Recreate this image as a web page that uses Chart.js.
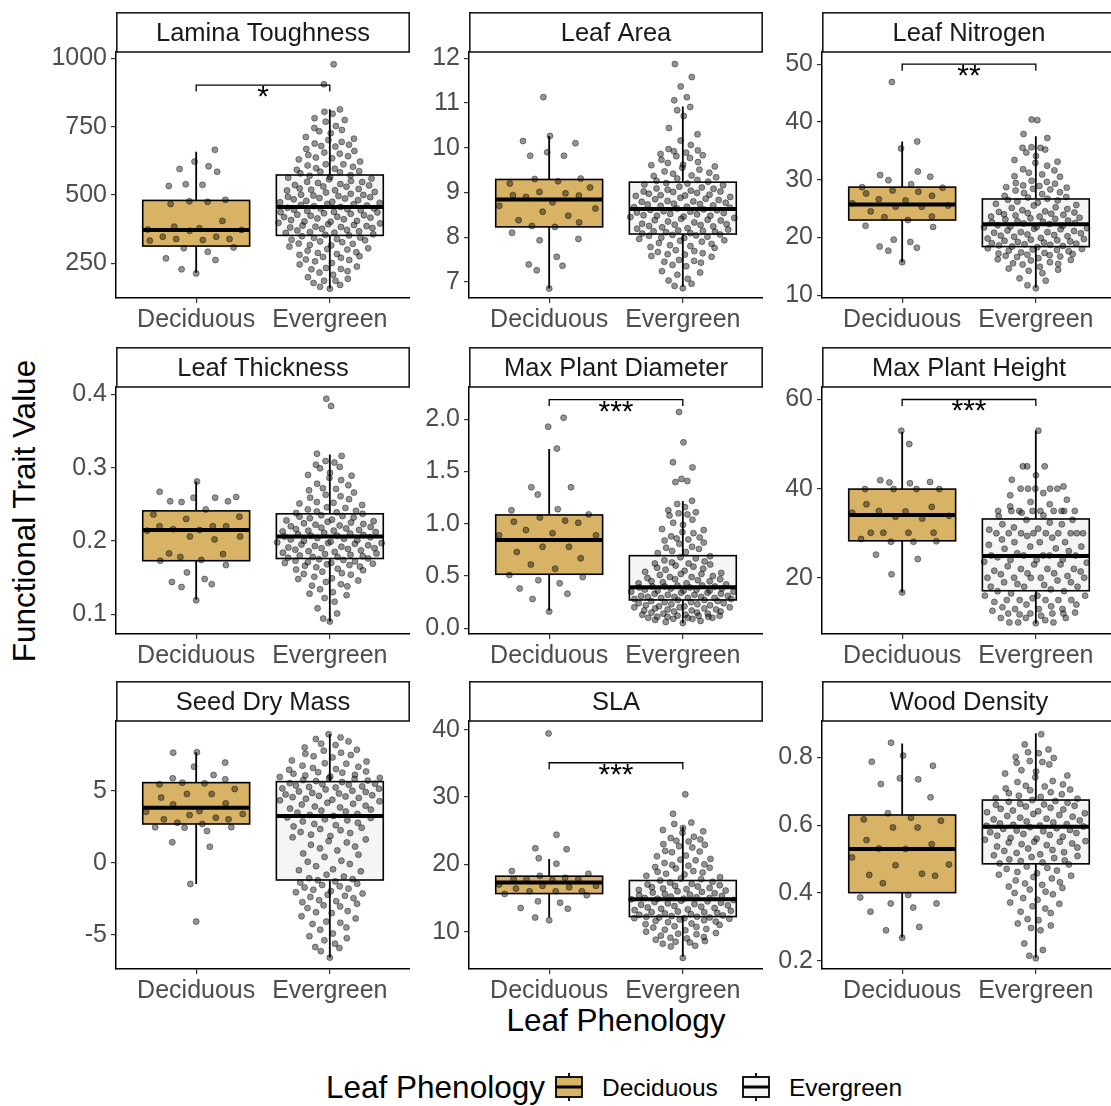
<!DOCTYPE html>
<html>
<head>
<meta charset="utf-8">
<script src="https://cdn.jsdelivr.net/npm/chart.js@4.4.1/dist/chart.umd.min.js"></script>
<style>
  body { margin: 0; background: #fff; overflow: hidden; }
  #page { position: relative; width: 1111px; height: 1106px; overflow: hidden; background: #fff;
          font-family: "Liberation Sans", Arial, Helvetica, sans-serif; }
  #page canvas.panel { position: absolute; }
  .title { position: absolute; white-space: nowrap; color: #000; font-size: 31.5px; line-height: 1; }
  #ytitle { left: 25px; top: 511px; transform: translate(-50%, -50%) rotate(-90deg); }
  #xtitle { left: 616px; top: 1021px; transform: translate(-50%, -50%); }
  #legendTitle { left: 326px; top: 1088px; transform: translateY(-50%); }
  .ltext { position: absolute; top: 1088px; transform: translateY(-50%); font-size: 24.5px;
           line-height: 1; color: #000; white-space: nowrap; }
  .key { position: absolute; top: 1072px; }
</style>
</head>
<body>
<div id="page">
  <div class="title" id="ytitle">Functional Trait Value</div>
  <div class="title" id="xtitle">Leaf Phenology</div>
  <div class="title" id="legendTitle">Leaf Phenology</div>
  <canvas class="key" id="keyDec" width="30" height="30" style="left:554px"></canvas>
  <div class="ltext" style="left:602px">Deciduous</div>
  <canvas class="key" id="keyEver" width="30" height="30" style="left:741px"></canvas>
  <div class="ltext" style="left:789px">Evergreen</div>
</div>
<script>
const groups = ["Deciduous", "Evergreen"];
const traits = ["Lamina Toughness", "Leaf Area", "Leaf Nitrogen", "Leaf Thickness",
  "Max Plant Diameter", "Max Plant Height", "Seed Dry Mass", "SLA", "Wood Density"];

// y axis range and ticks per facet
const yRanges = [[123, 1023], [6.64, 12.14], [9.5, 52.1], [0.073, 0.41], [-0.055, 2.31],
  [7.4, 62.8], [-7.36, 9.86], [4.45, 41.3], [0.176, 0.907]];
const yTicks = [[250, 500, 750, 1000], [7, 8, 9, 10, 11, 12], [10, 20, 30, 40, 50],
  [0.1, 0.2, 0.3, 0.4], [0, 0.5, 1, 1.5, 2], [20, 40, 60], [-5, 0, 5], [10, 20, 30, 40],
  [0.2, 0.4, 0.6, 0.8]];
const yTickLabels = [["250", "500", "750", "1000"], ["7", "8", "9", "10", "11", "12"],
  ["10", "20", "30", "40", "50"], ["0.1", "0.2", "0.3", "0.4"], ["0.0", "0.5", "1.0", "1.5", "2.0"],
  ["20", "40", "60"], ["-5", "0", "5"], ["10", "20", "30", "40"], ["0.2", "0.4", "0.6", "0.8"]];

// box stats: [lower whisker, q1, median, q3, upper whisker]
const deciduousBox = [
  [215, 313, 372, 480, 658], [6.85, 8.23, 8.84, 9.29, 10.26], [15.7, 23.0, 25.7, 28.7, 36.6],
  [0.12, 0.173, 0.215, 0.241, 0.281], [0.17, 0.517, 0.845, 1.085, 1.716], [16.7, 28.3, 34.1, 39.9, 52.7],
  [-1.46, 2.71, 3.84, 5.58, 7.69], [12.1, 15.66, 17.3, 18.24, 20.8], [0.269, 0.401, 0.53, 0.63, 0.841]];
const evergreenBox = [
  [158, 352, 456, 573, 814], [6.89, 8.07, 8.63, 9.23, 10.92], [11.3, 18.4, 22.25, 26.65, 37.5],
  [0.09, 0.176, 0.206, 0.237, 0.318], [0.048, 0.271, 0.392, 0.695, 1.218], [9.76, 17.1, 24.9, 33.2, 53.0],
  [-6.57, -1.18, 3.26, 5.65, 8.94], [6.3, 12.24, 14.8, 17.6, 25.6], [0.209, 0.486, 0.595, 0.674, 0.871]];

// significance brackets
const signifLabels = ["*", "", "**", "", "***", "***", "", "***", ""];
const bracketLevels = [902, null, 50.0, null, 2.19, 60.0, null, 35.1, null];

// trait values per species
const ltDec = [665, 622, 605, 595, 585, 539, 537, 533, 482, 477, 475, 467, 405, 384, 378, 374, 372, 369,
  347, 347, 339, 339, 335, 333, 308, 305, 292, 268, 262, 228, 213];
const ltEver = [978, 905, 813, 804, 797, 781, 774, 768, 752, 745, 738, 726, 712, 701, 694, 684, 679, 677,
  668, 655, 651, 646, 637, 634, 630, 622, 612, 608, 603, 596, 592, 587, 585, 579, 572, 570, 563, 560, 557,
  551, 547, 544, 540, 536, 535, 530, 524, 519, 516, 511, 504, 500, 498, 496, 493, 487, 484, 478, 475, 471,
  467, 463, 461, 456, 453, 450, 448, 444, 438, 436, 431, 428, 424, 420, 417, 414, 408, 405, 402, 398, 393,
  390, 386, 381, 379, 376, 370, 367, 364, 361, 356, 352, 349, 344, 339, 336, 330, 327, 322, 317, 315, 311,
  305, 300, 296, 290, 284, 281, 276, 270, 262, 257, 251, 246, 238, 233, 229, 221, 216, 208, 199, 193, 186,
  178, 171, 164, 157,
  612, 598, 583, 566, 548, 531, 522, 509, 501, 492, 489, 481, 473, 466, 459, 451, 446, 441, 433, 426, 419,
  411, 403, 396, 388, 383, 372, 362, 354, 343, 334, 321, 302, 288, 273, 264, 642, 661, 688, 706, 733, 517,
  437, 384, 228, 186];

const laDec = [11.13, 10.26, 10.1, 10.15, 9.82, 9.82, 9.9, 9.31, 9.25, 9.3, 9.2, 8.93, 9.01, 9.11, 8.98,
  8.94, 8.9, 8.78, 8.7, 8.57, 8.64, 8.48, 8.38, 8.33, 8.23, 8.25, 8.1, 7.96, 7.93, 7.56, 7.36, 7.26, 7.39, 6.85];
const laEver = [11.87, 11.58, 11.37, 11.13, 11.06, 10.91, 10.84, 10.71, 10.44, 10.16, 10.06, 9.97, 9.94,
  9.89, 9.86, 9.81, 9.77, 9.73, 9.68, 9.62, 9.61, 9.55, 9.51, 9.47, 9.44, 9.38, 9.37, 9.31, 9.28, 9.26, 9.21,
  9.2, 9.16, 9.13, 9.09, 9.08, 9.04, 9.02, 9.01, 8.97, 8.95, 8.93, 8.92, 8.88, 8.86, 8.85, 8.81, 8.79, 8.77,
  8.74, 8.73, 8.7, 8.68, 8.67, 8.64, 8.62, 8.61, 8.58, 8.55, 8.54, 8.51, 8.48, 8.46, 8.45, 8.41, 8.39, 8.37,
  8.35, 8.3, 8.29, 8.27, 8.24, 8.22, 8.2, 8.17, 8.15, 8.14, 8.11, 8.09, 8.06, 8.05, 8.03, 8.01, 7.98, 7.96,
  7.92, 7.9, 7.85, 7.82, 7.8, 7.76, 7.71, 7.67, 7.64, 7.61, 7.56, 7.49, 7.47, 7.43, 7.38, 7.35, 7.24, 7.21,
  7.16, 7.07, 7.03, 6.96, 6.91, 6.86,
  9.92, 9.83, 9.58, 9.42, 9.34, 9.24, 9.18, 9.11, 9.06, 8.99, 8.94, 8.9, 8.83, 8.8, 8.75, 8.71, 8.66, 8.6,
  8.57, 8.52, 8.49, 8.43, 8.38, 8.33, 8.28, 8.25, 8.19, 8.13, 8.08, 8.04, 7.99, 7.93, 7.87, 7.78, 7.69, 7.58,
  7.45, 10.3, 9.66, 9.02, 8.48, 8.12, 7.62];

const lnDec = [46.9, 36.6, 35.4, 31.4, 30.8, 29.9, 30.5, 29.2, 28.6, 28.7, 28.1, 27.2, 27.6, 27.9, 26.6,
  26.4, 25.5, 25.3, 25.9, 25.3, 24.5, 23.6, 23.5, 23.0, 22.0, 21.8, 19.6, 19.2, 18.4, 18.2, 17.7, 15.7];
const lnEver = [40.4, 40.3, 37.9, 37.2, 35.6, 35.5, 35.2, 34.7, 34.1, 33.1, 32.9, 32.4, 31.6, 31.2, 30.9,
  30.6, 30.5, 29.8, 29.6, 29.3, 29.0, 28.9, 28.4, 28.3, 28.1, 27.7, 27.5, 27.0, 26.9, 26.5, 26.4, 26.0,
  25.8, 25.6, 25.2, 25.1, 24.9, 24.5, 24.3, 24.2, 24.0, 23.8, 23.6, 23.6, 23.3, 23.1, 22.9, 22.8, 22.5,
  22.4, 22.1, 22.0, 21.9, 21.6, 21.5, 21.4, 21.1, 20.9, 20.8, 20.7, 20.4, 20.2, 20.1, 19.9, 19.7, 19.6,
  19.5, 19.2, 19.1, 18.9, 18.7, 18.6, 18.5, 18.3, 18.1, 17.9, 17.8, 17.6, 17.4, 17.3, 17.1, 16.9, 16.8,
  16.6, 16.4, 16.2, 16.0, 15.7, 15.5, 15.3, 14.9, 14.6, 14.4, 13.8, 12.9, 12.5, 11.7, 11.2,
  29.4, 28.6, 27.8, 27.2, 26.7, 26.2, 25.5, 24.7, 24.4, 23.9, 23.4, 23.2, 22.6, 22.3, 21.8, 21.2, 20.9,
  20.5, 20.3, 19.8, 19.4, 19.0, 18.8, 18.4, 18.0, 17.7, 17.2, 16.7, 16.1, 15.4, 31.8, 33.4, 35.5, 24.1,
  21.7, 19.3, 17.0, 14.2, 28.7, 22.7];

const thkDec = [0.281, 0.267, 0.26, 0.259, 0.259, 0.254, 0.254, 0.253, 0.243, 0.236, 0.233, 0.23, 0.22,
  0.22, 0.22, 0.216, 0.215, 0.214, 0.206, 0.206, 0.202, 0.183, 0.182, 0.178, 0.173, 0.174, 0.167, 0.157,
  0.148, 0.144, 0.141, 0.137, 0.119];
const thkEver = [0.394, 0.384, 0.319, 0.316, 0.309, 0.307, 0.301, 0.299, 0.293, 0.29, 0.286, 0.283, 0.278,
  0.276, 0.271, 0.269, 0.266, 0.261, 0.259, 0.257, 0.253, 0.251, 0.249, 0.246, 0.245, 0.241, 0.24, 0.238,
  0.237, 0.234, 0.233, 0.232, 0.229, 0.227, 0.226, 0.224, 0.223, 0.221, 0.219, 0.218, 0.217, 0.215, 0.214,
  0.212, 0.211, 0.21, 0.208, 0.207, 0.206, 0.205, 0.204, 0.202, 0.201, 0.199, 0.198, 0.197, 0.196, 0.194,
  0.193, 0.191, 0.19, 0.188, 0.187, 0.185, 0.184, 0.182, 0.181, 0.179, 0.178, 0.177, 0.175, 0.173, 0.172,
  0.17, 0.169, 0.167, 0.165, 0.164, 0.162, 0.16, 0.158, 0.156, 0.154, 0.151, 0.149, 0.146, 0.144, 0.141,
  0.138, 0.134, 0.13, 0.126, 0.122, 0.117, 0.108, 0.101, 0.094, 0.09,
  0.263, 0.252, 0.243, 0.239, 0.235, 0.231, 0.228, 0.225, 0.222, 0.22, 0.216, 0.213, 0.209, 0.207, 0.203,
  0.2, 0.197, 0.195, 0.192, 0.189, 0.186, 0.183, 0.18, 0.178, 0.176, 0.174, 0.171, 0.168, 0.166, 0.161,
  0.155, 0.148, 0.139, 0.128, 0.304, 0.289, 0.272, 0.214, 0.19, 0.17];

const diamDec = [2.015, 1.93, 1.72, 1.35, 1.35, 1.28, 1.14, 1.13, 1.09, 1.03, 1.02, 1.01, 1.06, 0.94, 0.91,
  0.89, 0.89, 0.78, 0.78, 0.73, 0.67, 0.61, 0.57, 0.49, 0.51, 0.46, 0.38, 0.43, 0.33, 0.28, 0.16];
const diamEver = [2.07, 1.78, 1.59, 1.54, 1.43, 1.41, 1.4, 1.22, 1.19, 1.16, 1.11, 1.1, 1.08, 1.04, 1.01,
  0.99, 0.95, 0.92, 0.91, 0.88, 0.86, 0.85, 0.84, 0.81, 0.78, 0.77, 0.76, 0.73, 0.72, 0.69, 0.67, 0.65,
  0.64, 0.63, 0.61, 0.6, 0.59, 0.57, 0.56, 0.54, 0.53, 0.52, 0.51, 0.5, 0.49, 0.48, 0.47, 0.46, 0.45, 0.44,
  0.43, 0.42, 0.41, 0.4, 0.4, 0.39, 0.38, 0.38, 0.37, 0.36, 0.36, 0.35, 0.34, 0.33, 0.32, 0.32, 0.31, 0.3,
  0.3, 0.29, 0.29, 0.28, 0.27, 0.27, 0.26, 0.25, 0.24, 0.24, 0.23, 0.22, 0.22, 0.21, 0.2, 0.2, 0.19, 0.18,
  0.17, 0.17, 0.16, 0.15, 0.14, 0.14, 0.13, 0.12, 0.12, 0.11, 0.11, 0.1, 0.1, 0.09, 0.08, 0.07, 0.06, 0.05,
  0.94, 0.87, 0.82, 0.74, 0.68, 0.62, 0.58, 0.55, 0.52, 0.49, 0.47, 0.45, 0.43, 0.41, 0.39, 0.37, 0.35,
  0.34, 0.33, 0.31, 0.3, 0.29, 0.28, 0.26, 0.25, 0.23, 0.21, 0.19, 0.18, 0.16, 0.15, 0.13, 0.12, 0.11, 0.1,
  0.09, 1.09, 1.13, 0.62, 0.4, 0.36, 0.2];

const htDec = [53.0, 50.0, 41.4, 41.9, 41.5, 41.2, 39.9, 39.9, 39.9, 39.9, 36.5, 35.9, 34.9, 35.0, 34.6,
  33.3, 33.9, 33.7, 30.1, 30.1, 30.1, 30.1, 28.2, 28.1, 28.1, 28.7, 25.2, 24.2, 20.8, 16.7];
const htEver = [53, 45, 45, 45, 43, 42, 40.5, 40, 40, 40, 40, 39, 38.5, 37, 36.5, 36, 35, 35, 35, 35, 35,
  35, 34.6, 33.8, 33, 33, 32.4, 32, 31.3, 30.8, 30, 30, 30, 30, 30, 30, 29.4, 28.6, 28, 28, 27.4, 27, 26.6,
  26, 25.5, 25, 25, 25, 24.6, 24.1, 24, 23.4, 23, 22.6, 22, 22, 21.4, 21, 20.8, 20.4, 20, 20, 20, 19.4, 19,
  18.6, 18, 18, 17.4, 17, 16.5, 16, 16, 15.4, 15, 15, 15, 14.6, 14, 13.4, 13, 13, 12.6, 12.2, 12, 12, 11.5,
  11, 11, 10.5, 10, 10, 9.8,
  35, 35, 35, 30, 30, 30, 28, 27, 25, 25, 24, 23, 22, 21, 20, 20, 19, 18, 17, 16, 15, 15, 14, 13, 12, 12,
  11, 10, 40, 37.5, 34, 32, 31, 29, 26.5, 23.6, 21.6, 18.4, 13.6, 11.8];

const seedDec = [7.69, 7.66, 6.97, 6.69, 6.11, 5.81, 5.88, 5.58, 5.46, 5.53, 5.14, 4.79, 4.79, 4.54, 4.14,
  4.07, 3.61, 3.4, 3.56, 3.15, 3.33, 3.03, 3.03, 2.8, 2.71, 2.48, 2.22, 2.45, 2.48, 1.44, 1.13, -1.46, -4.07];
const seedEver = [8.94, 8.72, 8.61, 8.44, 8.28, 8.19, 8.02, 7.86, 7.66, 7.58, 7.41, 7.33, 7.12, 7.04, 6.93,
  6.76, 6.68, 6.52, 6.47, 6.31, 6.27, 6.12, 6.08, 5.97, 5.91, 5.84, 5.72, 5.69, 5.55, 5.51, 5.43, 5.32, 5.28,
  5.18, 5.11, 5.02, 4.97, 4.86, 4.82, 4.7, 4.66, 4.57, 4.46, 4.39, 4.28, 4.18, 4.11, 3.98, 3.92, 3.78, 3.71,
  3.57, 3.49, 3.34, 3.27, 3.12, 3.03, 2.88, 2.79, 2.63, 2.54, 2.36, 2.27, 2.08, 1.97, 1.78, 1.64, 1.43,
  1.26, 1.02, 0.87, 0.58, 0.42, 0.16, -0.07, -0.22, -0.44, -0.58, -0.81, -0.94, -1.06, -1.2, -1.28, -1.44,
  -1.53, -1.7, -1.78, -1.95, -2.03, -2.2, -2.28, -2.44, -2.58, -2.72, -2.83, -3.02, -3.13, -3.34, -3.48,
  -3.7, -3.85, -4.07, -4.23, -4.47, -4.63, -4.9, -5.08, -5.37, -5.6, -5.84, -6.12, -6.57,
  7.8, 7.5, 6.9, 6.6, 6.35, 6.2, 6.0, 5.88, 5.76, 5.62, 5.47, 5.38, 5.24, 5.15, 4.93, 4.76, 4.62, 4.52,
  4.35, 4.06, 3.86, 3.64, 3.41, 3.16, 2.96, 2.71, 2.45, 2.15, 1.88, 1.52, 1.14, 0.66, 0.08, -0.5, -1.12,
  -1.36, -1.62, -1.86, -2.12, -2.36, -2.65, -2.94, -3.42, -4.15, -5.22, -5.9];

const slaDec = [39.45, 24.4, 22.4, 22.25, 20.9, 20.1, 19.0, 18.6, 18.3, 18.0, 17.8, 17.8, 17.8, 17.7, 17.0,
  16.8, 16.8, 16.4, 16.6, 16.0, 16.0, 16.0, 15.6, 15.4, 14.5, 14.3, 13.5, 13.4, 12.1, 11.7];
const slaEver = [30.4, 27.5, 26.2, 26.0, 25.4, 25.1, 24.7, 24.1, 23.9, 23.5, 23.4, 23.0, 22.7, 22.5, 22.0,
  21.8, 21.3, 21.2, 20.8, 20.6, 20.2, 19.9, 19.8, 19.5, 19.4, 19.0, 18.9, 18.6, 18.5, 18.1, 17.9, 17.8,
  17.4, 17.3, 17.0, 16.9, 16.7, 16.6, 16.3, 16.2, 16.0, 15.9, 15.7, 15.6, 15.4, 15.3, 15.1, 15.0, 14.9,
  14.8, 14.6, 14.5, 14.3, 14.2, 14.0, 13.9, 13.7, 13.6, 13.4, 13.3, 13.1, 12.9, 12.8, 12.6, 12.5, 12.3,
  12.2, 12.1, 12.0, 11.8, 11.6, 11.5, 11.2, 11.0, 10.8, 10.6, 10.4, 10.3, 10.0, 9.8, 9.6, 9.4, 9.2, 9.0,
  8.8, 8.6, 8.4, 8.2, 7.9, 7.8, 6.1,
  23.7, 22.9, 21.9, 20.7, 20.0, 19.6, 18.8, 18.3, 17.6, 17.1, 16.8, 16.5, 16.1, 15.8, 15.5, 15.2, 14.9,
  14.7, 14.4, 14.1, 13.8, 13.5, 13.2, 12.9, 12.7, 12.4, 12.2, 12.1, 11.9, 11.7, 11.4, 11.1, 10.7, 10.2,
  9.7, 9.1, 8.5, 16.4, 15.0, 13.0, 12.0, 24.9];

const woodDec = [0.843, 0.805, 0.787, 0.775, 0.735, 0.738, 0.721, 0.682, 0.635, 0.617, 0.622, 0.613, 0.593,
  0.593, 0.556, 0.544, 0.531, 0.53, 0.505, 0.482, 0.484, 0.457, 0.453, 0.451, 0.429, 0.394, 0.387, 0.369,
  0.369, 0.357, 0.345, 0.3, 0.29, 0.268];
const woodEver = [0.868, 0.838, 0.823, 0.815, 0.801, 0.798, 0.789, 0.786, 0.779, 0.762, 0.758, 0.746, 0.741,
  0.73, 0.727, 0.716, 0.714, 0.705, 0.703, 0.694, 0.691, 0.687, 0.679, 0.678, 0.671, 0.669, 0.663, 0.661,
  0.655, 0.651, 0.648, 0.643, 0.641, 0.635, 0.633, 0.627, 0.625, 0.619, 0.617, 0.611, 0.608, 0.605, 0.601,
  0.598, 0.594, 0.589, 0.586, 0.582, 0.579, 0.574, 0.571, 0.566, 0.562, 0.557, 0.553, 0.549, 0.544, 0.541,
  0.534, 0.531, 0.527, 0.52, 0.518, 0.511, 0.509, 0.503, 0.499, 0.494, 0.49, 0.484, 0.478, 0.474, 0.466,
  0.462, 0.454, 0.451, 0.443, 0.437, 0.428, 0.424, 0.415, 0.41, 0.4, 0.396, 0.385, 0.38, 0.368, 0.361,
  0.354, 0.341, 0.323, 0.32, 0.304, 0.297, 0.29, 0.251, 0.232, 0.215, 0.208,
  0.812, 0.784, 0.752, 0.72, 0.708, 0.697, 0.683, 0.674, 0.666, 0.657, 0.646, 0.638, 0.63, 0.622, 0.614,
  0.603, 0.596, 0.591, 0.584, 0.577, 0.569, 0.56, 0.551, 0.546, 0.537, 0.524, 0.514, 0.506, 0.496, 0.487,
  0.471, 0.458, 0.447, 0.432, 0.419, 0.404, 0.372, 0.345, 0.31, 0.599, 0.551, 0.66];

const deciduousPoints = [ltDec, laDec, lnDec, thkDec, diamDec, htDec, seedDec, slaDec, woodDec];
const evergreenPoints = [ltEver, laEver, lnEver, thkEver, diamEver, htEver, seedEver, slaEver, woodEver];

const FONT = '"Liberation Sans", Arial, Helvetica, sans-serif';
const DEC_FILL = "#D8B365";
const EVER_FILL = "#F5F5F5";
const colLeft = [116, 469, 822];
const rowTop = [52, 387, 721];
const rowHeight = [246, 247, 248];
const plotWidth = 294;
const yAxisW = 70, xAxisH = 40, stripH = 40;

// van der Corput sequence, used for quasirandom horizontal spread
function vdc(k) {
  let v = 0, d = 1;
  while (k > 0) { d *= 2; v += (k % 2) / d; k = Math.floor(k / 2); }
  return v;
}

// spread points sideways in proportion to local density (like a beeswarm)
function spreadOffsets(vals, maxHalf) {
  const n = vals.length;
  const mean = vals.reduce((a, b) => a + b, 0) / n;
  const sd = Math.sqrt(vals.reduce((a, b) => a + (b - mean) ** 2, 0) / (n - 1));
  const bw = 1.06 * sd * Math.pow(n, -0.2);
  const dens = vals.map(v => vals.reduce((s, w) => s + Math.exp(-0.5 * ((v - w) / bw) ** 2), 0));
  const maxD = Math.max(...dens);
  const order = vals.map((v, i) => i).sort((a, b) => vals[a] - vals[b]);
  const off = new Array(n);
  order.forEach((idx, rank) => {
    off[idx] = (vdc(rank + 1) * 2 - 1) * maxHalf * (0.15 + 0.85 * dens[idx] / maxD);
  });
  return off;
}

const panelDecor = {
  id: "panelDecor",
  beforeDatasetsDraw(chart) {
    const o = chart.options.plugins.panelDecor;
    const { ctx, chartArea: a, scales: { x, y } } = chart;
    ctx.save();
    // facet strip
    ctx.fillStyle = "#fff";
    ctx.fillRect(a.left, a.top - stripH, a.right - a.left, stripH);
    ctx.strokeStyle = "#1a1a1a";
    ctx.lineWidth = 1.6;
    ctx.strokeRect(a.left + 0.8, a.top - stripH + 0.8, a.right - a.left - 1.6, stripH - 0.8);
    ctx.fillStyle = "#1a1a1a";
    ctx.font = "25.5px " + FONT;
    ctx.textAlign = "center";
    ctx.textBaseline = "alphabetic";
    ctx.fillText(o.title, (a.left + a.right) / 2, a.top - stripH + 29);

    // boxplots
    o.boxes.forEach((s, g) => {
      const cx = x.getPixelForValue(g + 1);
      const half = x.getPixelForValue(g + 1.4) - cx;
      ctx.strokeStyle = "#000";
      ctx.lineWidth = 1.8;
      ctx.beginPath();
      ctx.moveTo(cx, y.getPixelForValue(s[4]));
      ctx.lineTo(cx, y.getPixelForValue(s[3]));
      ctx.moveTo(cx, y.getPixelForValue(s[1]));
      ctx.lineTo(cx, y.getPixelForValue(s[0]));
      ctx.stroke();
      const top = y.getPixelForValue(s[3]);
      const bot = y.getPixelForValue(s[1]);
      ctx.fillStyle = g === 0 ? DEC_FILL : EVER_FILL;
      ctx.fillRect(cx - half, top, half * 2, bot - top);
      ctx.lineWidth = 1.6;
      ctx.strokeRect(cx - half, top, half * 2, bot - top);
      ctx.lineWidth = 4;
      ctx.beginPath();
      const my = y.getPixelForValue(s[2]);
      ctx.moveTo(cx - half, my);
      ctx.lineTo(cx + half, my);
      ctx.stroke();
    });
    ctx.restore();
  },
  afterDatasetsDraw(chart) {
    const o = chart.options.plugins.panelDecor;
    if (o.bracket == null) return;
    const { ctx, scales: { x, y } } = chart;
    const by = y.getPixelForValue(o.bracket);
    const x1 = x.getPixelForValue(1), x2 = x.getPixelForValue(2);
    ctx.save();
    ctx.strokeStyle = "#000";
    ctx.lineWidth = 1.3;
    ctx.beginPath();
    ctx.moveTo(x1, by + 6.5);
    ctx.lineTo(x1, by);
    ctx.lineTo(x2, by);
    ctx.lineTo(x2, by + 6.5);
    ctx.stroke();
    ctx.fillStyle = "#000";
    ctx.font = "30px " + FONT;
    ctx.textAlign = "center";
    ctx.textBaseline = "alphabetic";
    ctx.fillText(o.label, (x1 + x2) / 2, by + 21);
    ctx.restore();
  }
};

const page = document.getElementById("page");

traits.forEach((name, i) => {
  const col = i % 3, row = Math.floor(i / 3);
  const canvas = document.createElement("canvas");
  canvas.className = "panel";
  canvas.width = yAxisW + plotWidth;
  canvas.height = stripH + rowHeight[row] + xAxisH;
  canvas.style.left = (colLeft[col] - yAxisW) + "px";
  canvas.style.top = (rowTop[row] - stripH) + "px";
  page.appendChild(canvas);

  const decOff = spreadOffsets(deciduousPoints[i], 0.4);
  const everOff = spreadOffsets(evergreenPoints[i], 0.4);
  const axisStyle = {
    grid: { display: true, drawOnChartArea: false, drawTicks: true, tickLength: 5, color: "#333", lineWidth: 1.2 },
    border: { display: true, color: "#000", width: 1.5 }
  };
  const pointStyle = {
    backgroundColor: "rgba(0,0,0,0.42)",
    borderColor: "rgba(0,0,0,0.42)",
    borderWidth: 1,
    pointRadius: 3
  };

  new Chart(canvas, {
    type: "scatter",
    data: {
      datasets: [
        {
          label: groups[0],
          data: deciduousPoints[i].map((v, k) => ({ x: 1 + decOff[k], y: v })),
          ...pointStyle
        },
        {
          label: groups[1],
          data: evergreenPoints[i].map((v, k) => ({ x: 2 + everOff[k], y: v })),
          ...pointStyle
        }
      ]
    },
    options: {
      responsive: false,
      animation: false,
      devicePixelRatio: 1,
      layout: { autoPadding: false, padding: { top: stripH, right: 0, left: 0, bottom: 0 } },
      plugins: {
        legend: { display: false },
        tooltip: { enabled: false },
        panelDecor: {
          title: name,
          boxes: [deciduousBox[i], evergreenBox[i]],
          bracket: bracketLevels[i],
          label: signifLabels[i]
        }
      },
      scales: {
        x: {
          type: "linear",
          min: 0.4,
          max: 2.6,
          afterBuildTicks: s => { s.ticks = [{ value: 1 }, { value: 2 }]; },
          afterFit: s => { s.height = xAxisH; },
          ticks: {
            callback: v => groups[v - 1],
            color: "#4d4d4d",
            font: { size: 25, family: FONT },
            padding: 2,
            maxRotation: 0,
            autoSkip: false
          },
          ...axisStyle
        },
        y: {
          min: yRanges[i][0],
          max: yRanges[i][1],
          afterBuildTicks: s => { s.ticks = yTicks[i].map(v => ({ value: v })); },
          afterFit: s => { s.width = yAxisW; },
          ticks: {
            callback: (v, idx) => yTickLabels[i][idx],
            color: "#4d4d4d",
            font: { size: 25, family: FONT },
            padding: 4,
            autoSkip: false
          },
          ...axisStyle
        }
      }
    },
    plugins: [panelDecor]
  });
});

// legend keys drawn as small boxplot glyphs
function drawKey(id, fill) {
  const c = document.getElementById(id).getContext("2d");
  c.strokeStyle = "#000";
  c.lineWidth = 1.8;
  c.beginPath();
  c.moveTo(15, 1); c.lineTo(15, 5);
  c.moveTo(15, 25); c.lineTo(15, 29);
  c.stroke();
  c.fillStyle = fill;
  c.fillRect(2, 5, 26, 20);
  c.strokeRect(2, 5, 26, 20);
  c.lineWidth = 3;
  c.beginPath();
  c.moveTo(2, 15); c.lineTo(28, 15);
  c.stroke();
}
drawKey("keyDec", DEC_FILL);
drawKey("keyEver", EVER_FILL);
</script>
</body>
</html>
